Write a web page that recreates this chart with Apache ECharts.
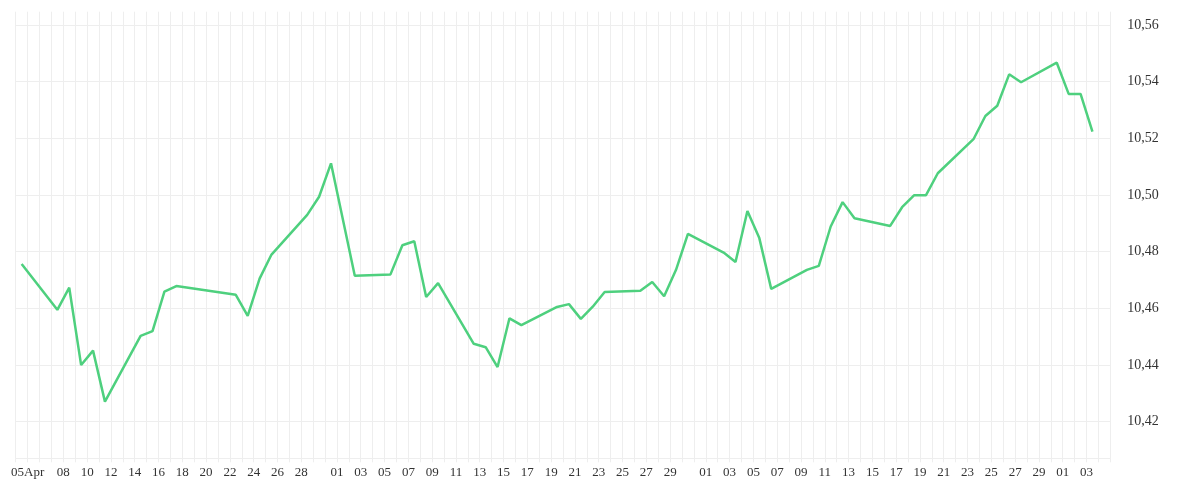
<!DOCTYPE html>
<html>
<head>
<meta charset="utf-8">
<script src="https://cdn.jsdelivr.net/npm/echarts@6/dist/echarts.min.js"></script>
<style>
  html, body { margin: 0; padding: 0; background: #fff; }
  #main { width: 1200px; height: 500px; }
</style>
</head>
<body>
<div id="main"></div>
<script>
// observed days (2024) and closing values
const dates = [
  "04-05", "04-08", "04-09", "04-10", "04-11", "04-12", "04-15", "04-16", "04-17", "04-18",
  "04-23", "04-24", "04-25", "04-26", "04-29", "04-30", "05-01", "05-03", "05-06", "05-07",
  "05-08", "05-09", "05-10", "05-13", "05-14", "05-15", "05-16", "05-17", "05-20", "05-21",
  "05-22", "05-23", "05-24", "05-27", "05-28", "05-29", "05-30", "05-31", "06-03", "06-04",
  "06-05", "06-06", "06-07", "06-10", "06-11", "06-12", "06-13", "06-14", "06-17", "06-18",
  "06-19", "06-20", "06-21", "06-24", "06-25", "06-26", "06-27", "06-28", "07-01", "07-02",
  "07-03", "07-04"
];
const values = [
  10.4757, 10.4595, 10.4673, 10.4400, 10.4451, 10.4271, 10.4503, 10.4520, 10.4659, 10.4679,
  10.4648, 10.4574, 10.4705, 10.4790, 10.4930, 10.4994, 10.5112, 10.4715, 10.4720, 10.4823,
  10.4837, 10.4640, 10.4689, 10.4475, 10.4463, 10.4393, 10.4565, 10.4541, 10.4605, 10.4615,
  10.4563, 10.4606, 10.4658, 10.4662, 10.4693, 10.4643, 10.4736, 10.4863, 10.4797, 10.4764,
  10.4944, 10.4848, 10.4669, 10.4736, 10.4750, 10.4889, 10.4975, 10.4918, 10.4891, 10.4957,
  10.4999, 10.4999, 10.5077, 10.5197, 10.5279, 10.5315, 10.5426, 10.5398, 10.5467, 10.5357,
  10.5357, 10.5224
];
const firstDay = "2024-04-05";
const dayCount = 92;

const monthNames = ["Jan", "Feb", "Mar", "Apr", "May", "Jun", "Jul", "Aug", "Sep", "Oct", "Nov", "Dec"];
const pad = n => (n < 10 ? "0" : "") + n;

const days = [];
const start = new Date(firstDay + "T00:00:00Z");
for (let i = 0; i < dayCount; i++) {
  const d = new Date(start.getTime() + i * 86400000);
  days.push(pad(d.getUTCMonth() + 1) + "-" + pad(d.getUTCDate()));
}
const seriesData = days.map(k => {
  const j = dates.indexOf(k);
  return j < 0 ? null : values[j];
});

function showLabel(i) {
  if (i === 0) return true;
  const [m, d] = days[i].split("-").map(Number);
  if (m === 4) return d >= 8 && d <= 28 && d % 2 === 0;
  return d % 2 === 1 && d <= 29 && !(m === 7 && d > 3);
}

const font = "'Liberation Serif', serif";

var myChart = echarts.init(document.getElementById("main"));
myChart.setOption({
  animation: false,
  grid: { left: 15.7, right: 89.7, top: 11.7, bottom: 41.7 },
  xAxis: {
    type: "category",
    data: days,
    boundaryGap: true,
    axisLine: { lineStyle: { color: "#eeeeee" } },
    axisTick: { show: true, interval: 0, length: 4, lineStyle: { color: "#eeeeee" } },
    splitLine: { show: true, interval: 0, lineStyle: { color: "#eeeeee" } },
    axisLabel: {
      interval: (i) => showLabel(i),
      padding: [0, 0, 0, 12],
      margin: 8,
      color: "#333",
      fontFamily: font,
      fontSize: 13,
      formatter: (v, i) => {
        const [m, d] = v.split("-").map(Number);
        return i === 0 ? pad(d) + monthNames[m - 1] : pad(d);
      }
    }
  },
  yAxis: {
    type: "value",
    position: "right",
    min: 10.4071,
    max: 10.5647,
    splitNumber: 8,
    axisLine: { show: false },
    axisTick: { show: false },
    splitLine: { showMaxLine: false, showMinLine: false, lineStyle: { color: "#eeeeee" } },
    axisLabel: {
      margin: 17,
      color: "#333",
      fontFamily: font,
      fontSize: 14,
      showMinLabel: false,
      showMaxLabel: false,
      formatter: v => v.toFixed(2).replace(".", ",")
    }
  },
  series: [{
    type: "line",
    data: seriesData,
    connectNulls: true,
    showSymbol: false,
    symbol: "none",
    lineStyle: { color: "#4ed07e", width: 2.5 }
  }]
});
window.onresize = function() {
  myChart.resize();
};
</script>
</body>
</html>
